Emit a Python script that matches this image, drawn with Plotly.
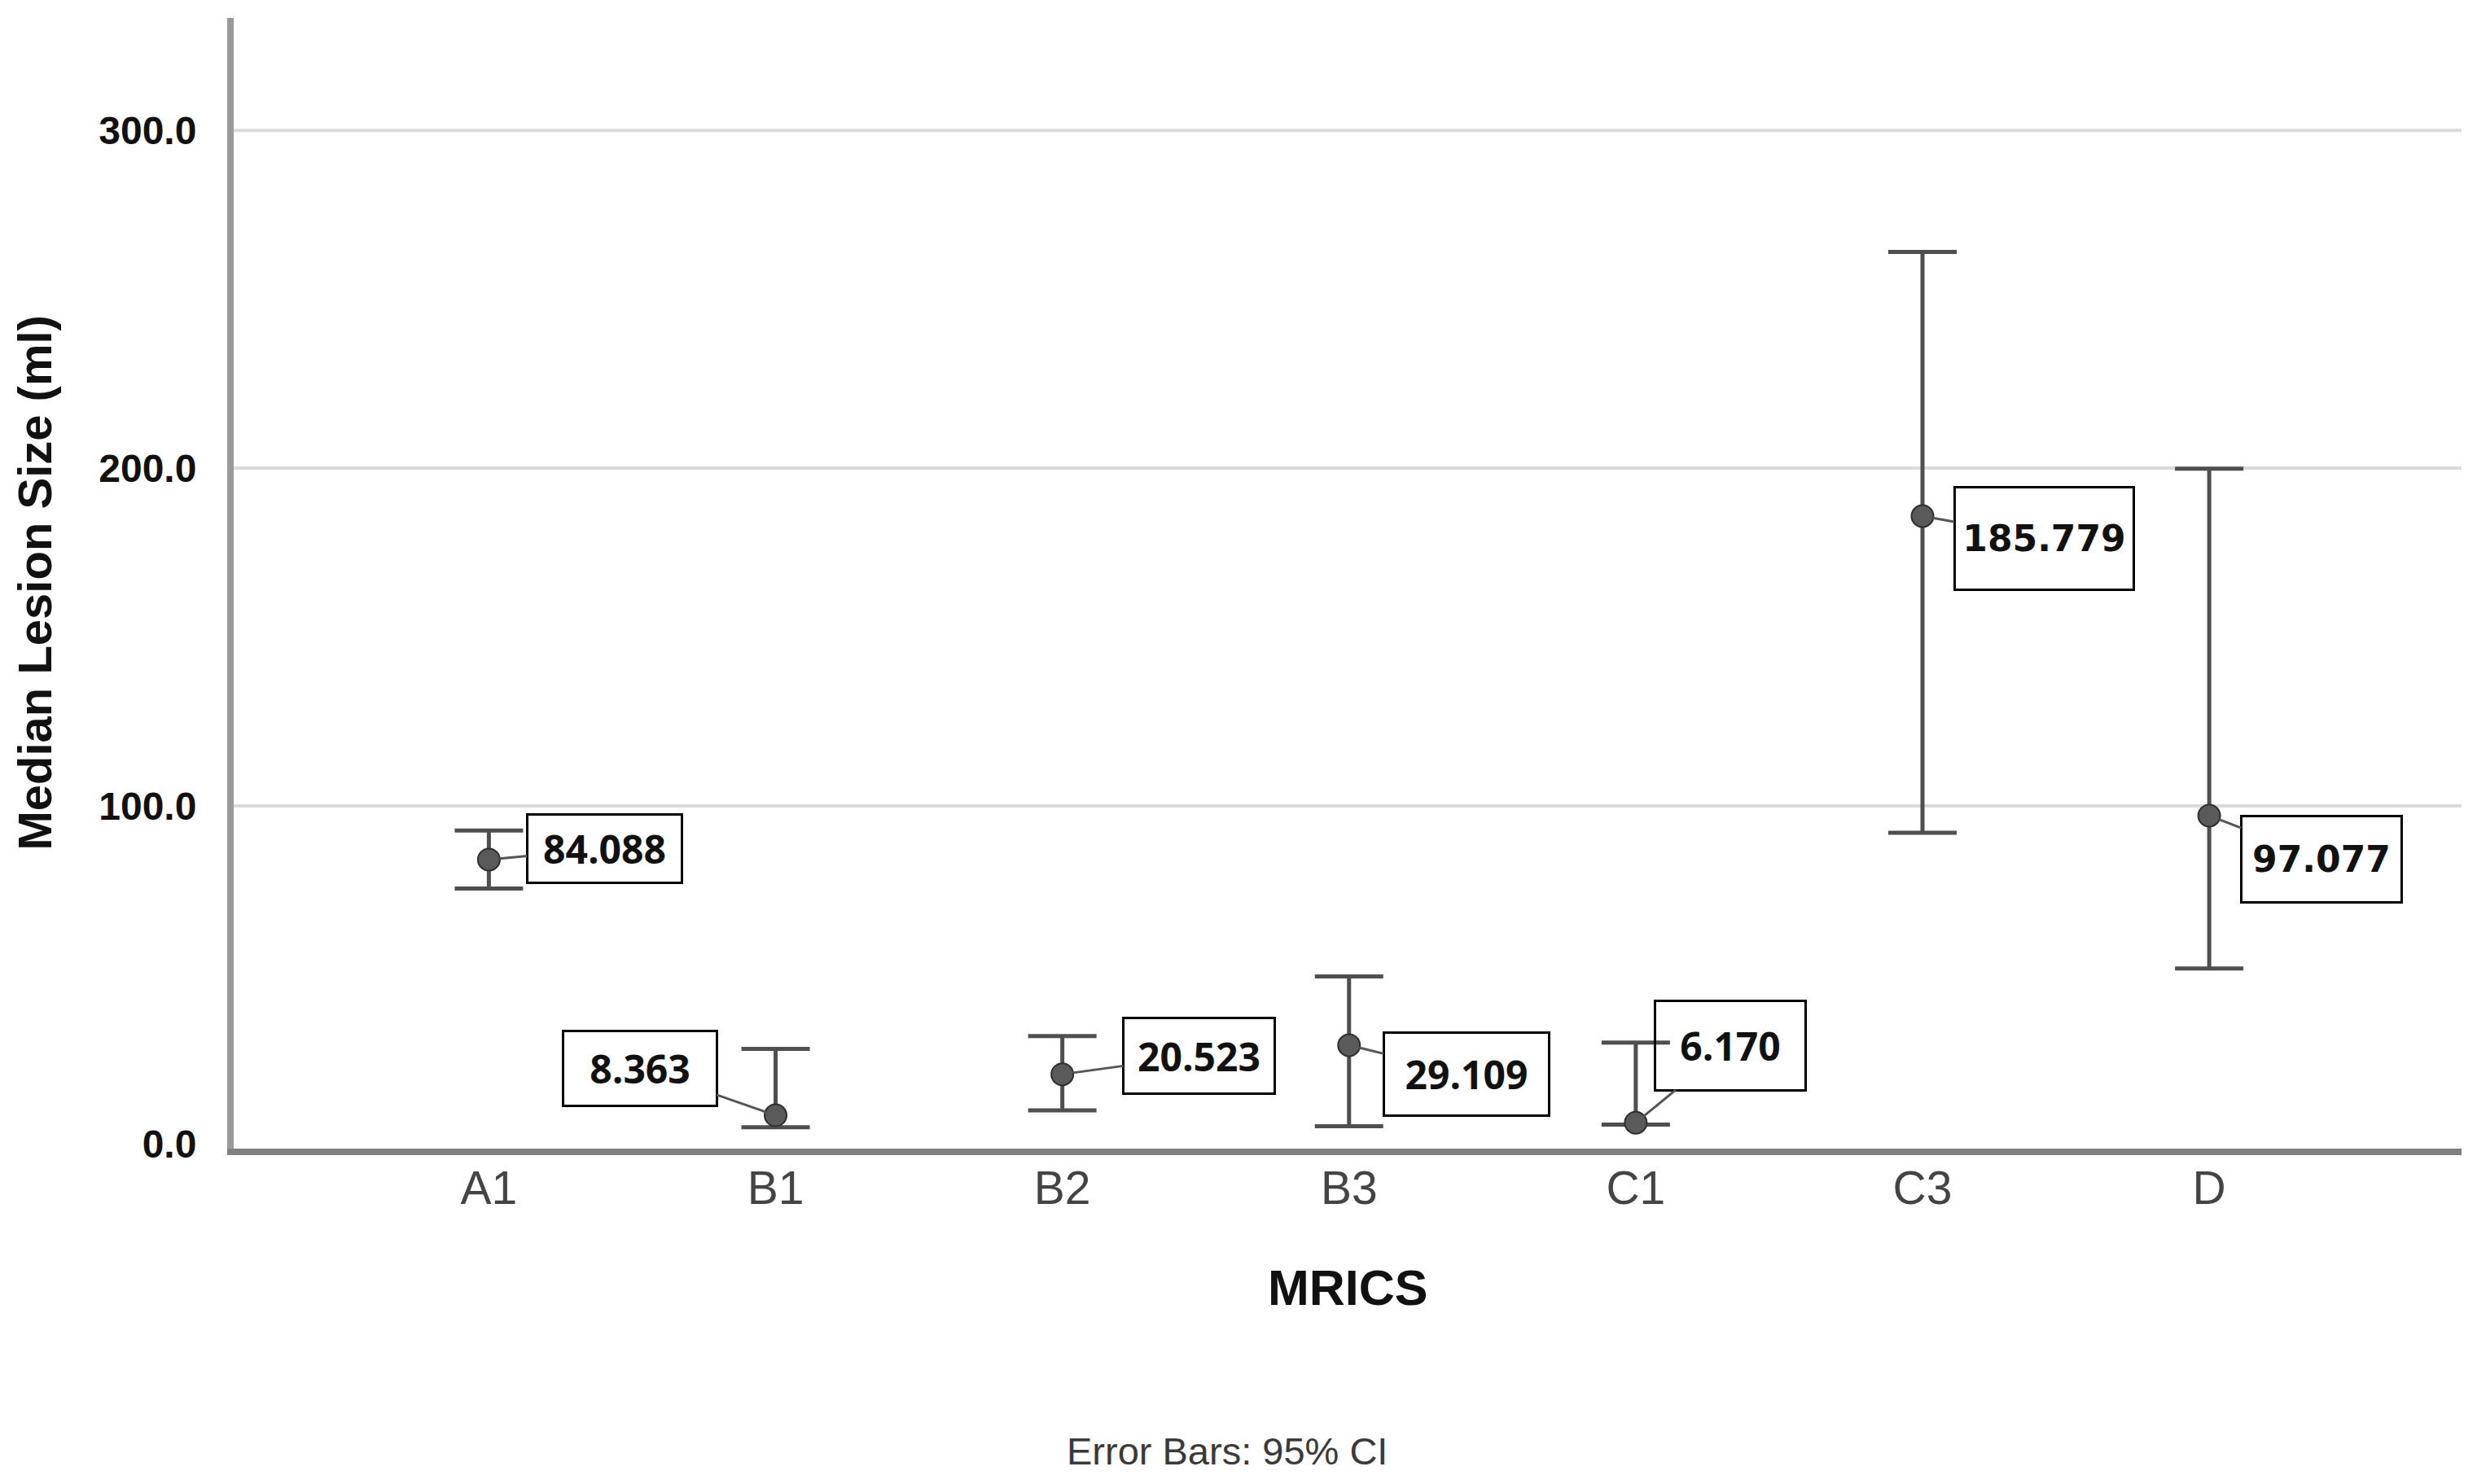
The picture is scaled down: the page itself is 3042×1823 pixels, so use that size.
import plotly.graph_objects as go

# ---- data ----
categories = ["A1", "B1", "B2", "B3", "C1", "C3", "D"]
medians = [84.088, 8.363, 20.523, 29.109, 6.170, 185.779, 97.077]
ci_low = [75.5, 4.8, 9.8, 5.1, 5.6, 92.0, 51.8]
ci_high = [92.7, 28.0, 31.8, 49.5, 29.9, 264.0, 199.8]
value_labels = ["84.088", "8.363", "20.523", "29.109", "6.170", "185.779", "97.077"]
y_ticks = [0, 100, 200, 300]
y_ticktext = ["0.0", "100.0", "200.0", "300.0"]

# ---- label box styles (pixel offsets from the point, box sizes) ----
box_style = [
    dict(ax=142, ay=-13, w=187, h=81, family="Open Sans", size=48),
    dict(ax=-167, ay=-58, w=186, h=89, family="Open Sans", size=48),
    dict(ax=168, ay=-23, w=183, h=90, family="Open Sans", size=48),
    dict(ax=144, ay=35, w=200, h=99, family="Open Sans", size=48),
    dict(ax=116, ay=-95, w=182, h=107, family="Open Sans", size=48),
    dict(ax=149, ay=27, w=217, h=123, family="DejaVu Sans", size=44),
    dict(ax=138, ay=53, w=194, h=103, family="DejaVu Sans", size=44),
]

err_plus = [h - m for h, m in zip(ci_high, medians)]
err_minus = [m - l for m, l in zip(medians, ci_low)]

L, R, T, B = 279, 27, 14, 420
W, H = 3042, 1823
PW, PH = W - L - R, H - T - B
bottom_px = H - B

fig = go.Figure()
fig.add_trace(go.Scatter(
    x=categories, y=medians, mode="markers",
    marker=dict(size=27, color="#5a5a5a", line=dict(color="#2e2e2e", width=2)),
    error_y=dict(type="data", symmetric=False, array=err_plus, arrayminus=err_minus,
                 color="#4f4f4f", thickness=5, width=42),
    showlegend=False,
))

# horizontal gridlines (not at zero, which is covered by the axis line)
shapes = []
for yv in y_ticks:
    if yv == 0:
        continue
    shapes.append(dict(type="line", xref="paper", yref="y", x0=0, x1=1, y0=yv, y1=yv,
                       line=dict(color="#dadada", width=4), layer="below"))

annotations = []
for cat, m, lab, st in zip(categories, medians, value_labels, box_style):
    annotations.append(dict(
        x=cat, y=m, xref="x", yref="y", text=lab,
        showarrow=True, arrowhead=0, arrowwidth=3, arrowcolor="#555555",
        ax=st["ax"], ay=st["ay"], standoff=13,
        width=st["w"], height=st["h"], borderpad=0,
        bordercolor="#000000", borderwidth=3, bgcolor="rgba(255,255,255,0)",
        font=dict(family=st["family"], size=st["size"], color="#111111", weight="bold"),
        align="center", valign="middle",
    ))

# y-axis title
annotations.append(dict(
    text="Median Lesion Size (ml)", xref="paper", yref="paper",
    x=(34 - L) / PW, y=0.5, xanchor="center", yanchor="middle", textangle=-90,
    showarrow=False, font=dict(family="Liberation Sans", size=58, color="#111111", weight="bold"),
))
# x-axis title
annotations.append(dict(
    text="MRICS", xref="paper", yref="paper",
    x=0.5, y=-(1574 - bottom_px) / PH, xanchor="center", yanchor="middle",
    showarrow=False, font=dict(family="Liberation Sans", size=61, color="#111111", weight="bold"),
))
# footnote
annotations.append(dict(
    text="Error Bars: 95% CI", xref="paper", yref="paper",
    x=(1499 - L) / PW, y=-(1774 - bottom_px) / PH, xanchor="center", yanchor="middle",
    showarrow=False, font=dict(family="Liberation Sans", size=47, color="#3a3a3a"),
))

fig.update_layout(
    width=W, height=H,
    margin=dict(l=L, r=R, t=T, b=B),
    paper_bgcolor="white", plot_bgcolor="white",
    annotations=annotations, shapes=shapes,
    xaxis=dict(
        type="category", range=[-0.89, 6.88],
        showgrid=False, zeroline=False,
        showline=True, linecolor="#808080", linewidth=8,
        ticks="", tickfont=dict(family="Liberation Sans", size=57, color="#444444"),
        ticklabelstandoff=-8,
    ),
    yaxis=dict(
        range=[-1.5, 333.3], tickvals=y_ticks, ticktext=y_ticktext,
        showgrid=False, zeroline=False,
        showline=True, linecolor="#9a9a9a", linewidth=8,
        ticks="", tickfont=dict(family="Liberation Sans", size=48, color="#111111", weight="bold"),
        ticklabelstandoff=28,
    ),
)

fig.write_html("out.html")
